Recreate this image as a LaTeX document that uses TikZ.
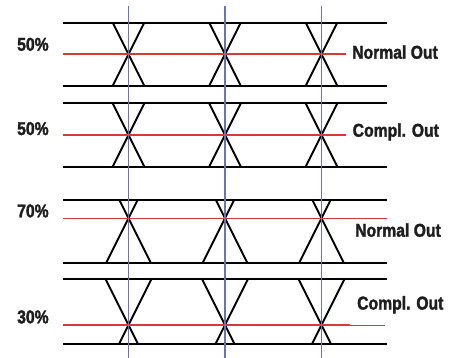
\documentclass[tikz,border=0pt]{standalone}
\usepackage{fontspec}
\newfontfamily\labfont[FakeBold=1.8,FakeStretch=0.85]{Liberation Sans Bold}
\definecolor{eyeblue}{RGB}{105,115,185}
\definecolor{eyered}{RGB}{218,55,55}
\definecolor{labgray}{RGB}{30,30,30}
\begin{document}
\begin{tikzpicture}[x=1pt,y=-1pt,
  rail/.style={draw=black,line width=2pt},
  trace/.style={draw=black,line width=1.9pt},
  thresh/.style={draw=eyered,line width=2pt},
  threshthin/.style={draw=eyered,line width=1pt},
  clk/.style={draw=eyeblue,line width=1.1pt},
  lab/.style={anchor=base west,inner sep=0pt,text=labgray,font=\labfont\fontsize{18.5}{20}\selectfont}]
\useasboundingbox (0,0) rectangle (449,358);
\fill[white] (0,0) rectangle (449,358);
% eye panels: top, bottom, crossing level
\foreach \t/\b/\c in {22.7/86/54.3, 103.3/166.7/135, 200/263.3/218.3, 279/344/325}{
  \foreach \x in {128.5,225,321.5}{
    \pgfmathsetmacro{\wt}{0.5*(\c-\t)}
    \pgfmathsetmacro{\wb}{0.5*(\b-\c)}
    \draw[trace] (\x-\wt,\t) -- (\x+\wb,\b);
    \draw[trace] (\x+\wt,\t) -- (\x-\wb,\b);
  }
  \draw[rail] (63,\t) -- (387,\t);
  \draw[rail] (63,\b) -- (387,\b);
}
% threshold lines
\draw[thresh] (63,54.3) -- (346,54.3);
\draw[thresh] (63,135) -- (346,135);
\draw[threshthin] (63,218.3) -- (387,218.3);
\draw[thresh] (63,325) -- (350,325);
\draw[threshthin] (350,325) -- (385,325);
% clock lines
\foreach \x in {128.5,225,321.5}{
  \draw[clk] (\x,6) -- (\x,358);
}
% labels
\node[lab] (p1) at (17,50.7) {50\%};
\node[lab] (p2) at (17,135) {50\%};
\node[lab] (p3) at (17,217.3) {70\%};
\node[lab] (p4) at (17,323.3) {30\%};
\node[lab] (o1) at (352,58.7) {Normal Out};
\node[lab] (o2) at (352.5,136.7) {Compl. Out};
\node[lab] (o3) at (355,236.7) {Normal Out};
\node[lab] (o4) at (357,309.5) {Compl. Out};
\end{tikzpicture}
\end{document}
